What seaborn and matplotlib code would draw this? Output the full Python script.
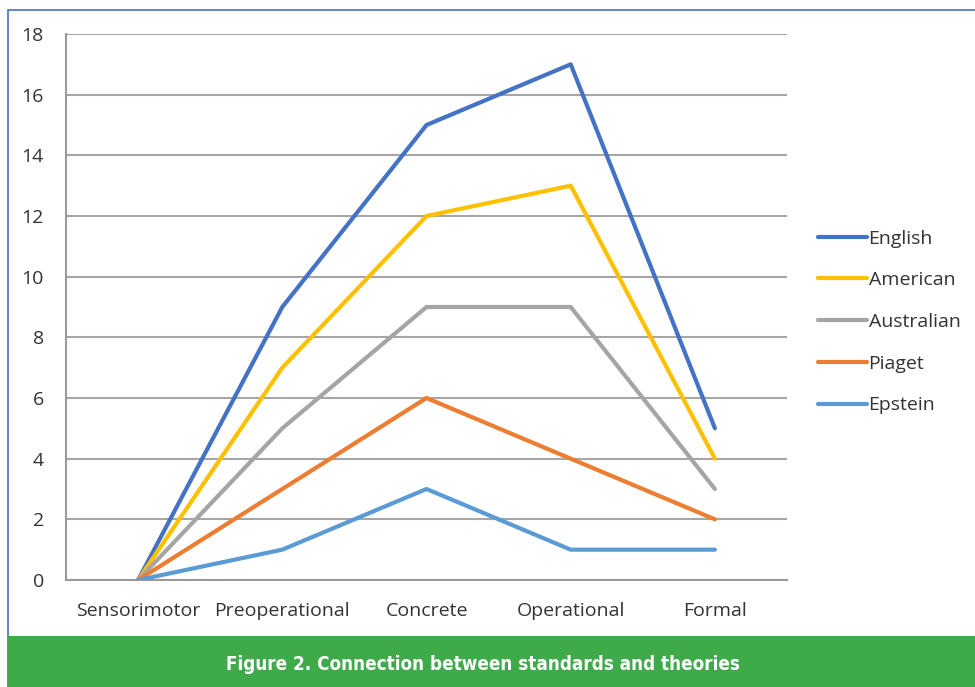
import matplotlib
matplotlib.use("Agg")
import matplotlib.pyplot as plt
from matplotlib.patches import Rectangle
from matplotlib.ticker import FixedLocator
import pandas as pd
import seaborn as sns

stages = ["Sensorimotor", "Preoperational", "Concrete", "Operational", "Formal"]
series_names = ["English", "American", "Australian", "Piaget", "Epstein"]
english = [0, 9, 15, 17, 5]
american = [0, 7, 12, 13, 4]
australian = [0, 5, 9, 9, 3]
piaget = [0, 3, 6, 4, 2]
epstein = [0, 1, 3, 1, 1]
colors = ["#4472C4", "#FFC000", "#A5A5A5", "#ED7D31", "#5B9BD5"]
y_ticks = list(range(0, 19, 2))
caption = "Figure 2. Connection between standards and theories"

rows = []
for name, vals in zip(series_names, [english, american, australian, piaget, epstein]):
    for stage, v in zip(stages, vals):
        rows.append({"stage": stage, "value": v, "series": name})
df = pd.DataFrame(rows)
df["pos"] = df["stage"].map({s: i for i, s in enumerate(stages)})

sns.set_style("white")
plt.rcParams["font.family"] = ["Open Sans", "DejaVu Sans"]

fig = plt.figure(figsize=(9.75, 6.87), dpi=100)
W, H = 975, 687

# page frame and caption band
fig.add_artist(Rectangle((8 / W, 0), 1, 1 - 10 / H, transform=fig.transFigure,
                         facecolor="white", edgecolor="#4472C4", linewidth=1.2, zorder=0))
fig.add_artist(Rectangle((8 / W, 0), 1, 51 / H, transform=fig.transFigure,
                         facecolor="#3FAA4A", edgecolor="none", zorder=1))
fig.text(483 / W, 1 - 664 / H, caption, color="white", fontsize=13.5, fontweight="bold",
         family=["DejaVu Sans"], fontstretch="condensed", ha="center", va="center")

ax = fig.add_axes([66 / W, 1 - 580 / H, (787 - 66) / W, (580 - 34) / H])
ax.set_facecolor("none")

sns.lineplot(data=df, x="pos", y="value", hue="series", hue_order=series_names,
             palette=colors, linewidth=3.0, ax=ax, legend=True,
             solid_capstyle="round", solid_joinstyle="round", zorder=3)

ax.set_xlim(-0.5, len(stages) - 0.5)
ax.set_ylim(0, 18)
ax.set_xticks(range(len(stages)))
ax.set_xticklabels(stages)
ax.xaxis.set_minor_locator(FixedLocator([i - 0.5 for i in range(len(stages) + 1)]))
ax.tick_params(axis="x", which="major", length=0, pad=16, labelsize=14, labelcolor="#333333")
ax.tick_params(axis="x", which="minor", length=6, width=1.5, color="#9a9a9a", direction="out")
ax.set_yticks(y_ticks)
ax.tick_params(axis="y", length=6, width=1.5, color="#9a9a9a", direction="out",
               pad=10, labelsize=14, labelcolor="#333333")
ax.grid(axis="y", color="#a6a6a6", linewidth=1.5)
ax.set_axisbelow(True)
for side in ["top", "right"]:
    ax.spines[side].set_visible(False)
for side in ["left", "bottom"]:
    ax.spines[side].set_color("#9a9a9a")
    ax.spines[side].set_linewidth(1.5)
ax.set_xlabel("")
ax.set_ylabel("")

handles, labels = ax.get_legend_handles_labels()
ax.legend(handles, labels, loc="center left", bbox_to_anchor=(818 / W, 1 - 322 / H),
          bbox_transform=fig.transFigure, frameon=False, fontsize=14,
          handlelength=2.5, handletextpad=0.1, labelspacing=1.22, borderpad=0,
          borderaxespad=0, labelcolor="#333333")

fig.savefig("out.png", dpi=100)
